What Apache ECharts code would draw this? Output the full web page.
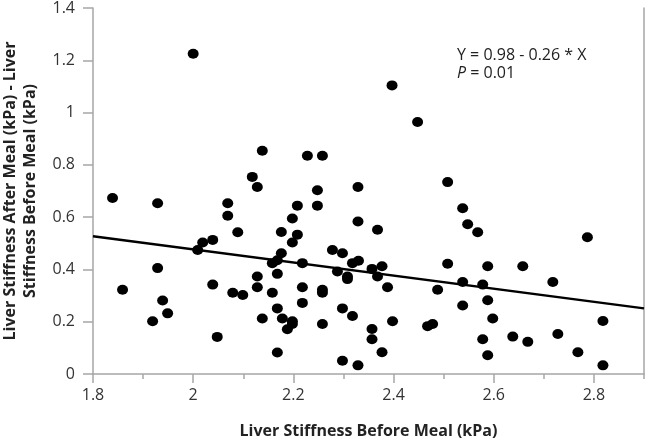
<!DOCTYPE html>
<html><head><meta charset="utf-8">
<script src="https://cdn.jsdelivr.net/npm/echarts@6/dist/echarts.min.js"></script>
<style>html,body{margin:0;padding:0;background:#fff}#c{width:646px;height:438px}</style>
</head><body><div id="c"></div>
<script>
// Liver stiffness before meal (kPa)
const xBefore = [
  2.00, 2.138, 2.228, 2.258, 2.118, 2.128, 2.248, 2.329, 1.839, 1.929,
  2.069, 2.208, 2.248, 2.069, 2.198, 2.329, 2.397, 2.448, 2.508, 2.538,
  2.548, 2.568, 2.787, 2.368, 2.330, 2.357, 2.377, 2.368, 2.388, 2.508,
  2.588, 2.658, 2.718, 2.538, 2.578, 2.488, 2.538, 2.588, 2.598, 2.818,
  2.398, 2.468, 2.478, 2.357, 2.357, 2.377, 2.578, 2.638, 2.668, 2.728,
  2.588, 2.768, 2.818, 2.329, 2.089, 2.176, 2.019, 2.039, 2.009, 2.158,
  2.168, 2.176, 1.929, 1.859, 1.939, 1.949, 1.919, 2.039, 2.048, 2.079,
  2.099, 2.128, 2.128, 2.168, 2.158, 2.168, 2.138, 2.178, 2.168, 2.208,
  2.198, 2.278, 2.298, 2.218, 2.318, 2.288, 2.308, 2.308, 2.218, 2.258,
  2.258, 2.218, 2.198, 2.198, 2.188, 2.258, 2.298, 2.318, 2.298
];
// Liver stiffness after meal - before meal (kPa)
const yDiff = [
  1.225, 0.854, 0.835, 0.835, 0.754, 0.715, 0.703, 0.715, 0.673, 0.653,
  0.653, 0.644, 0.644, 0.605, 0.595, 0.583, 1.104, 0.964, 0.734, 0.634,
  0.573, 0.542, 0.523, 0.552, 0.433, 0.402, 0.412, 0.373, 0.332, 0.422,
  0.412, 0.412, 0.352, 0.352, 0.342, 0.322, 0.262, 0.282, 0.212, 0.203,
  0.202, 0.183, 0.191, 0.172, 0.133, 0.083, 0.133, 0.143, 0.123, 0.153,
  0.072, 0.083, 0.033, 0.033, 0.542, 0.543, 0.503, 0.513, 0.474, 0.424,
  0.435, 0.462, 0.405, 0.322, 0.281, 0.232, 0.202, 0.342, 0.142, 0.311,
  0.302, 0.373, 0.332, 0.383, 0.311, 0.251, 0.212, 0.212, 0.082, 0.533,
  0.503, 0.474, 0.462, 0.424, 0.424, 0.392, 0.373, 0.363, 0.332, 0.322,
  0.311, 0.272, 0.202, 0.191, 0.171, 0.191, 0.251, 0.222, 0.051
];
// Fitted regression line end points
const fitX = [1.8, 2.9];
const fitY = [0.527, 0.251];
const eqText = 'Y = 0.98 - 0.26 * X';
const pText = '0.01';

const points = xBefore.map((x, i) => [x, yDiff[i]]);
const fit = fitX.map((x, i) => [x, fitY[i]]);

const axisGray = '#a6a6a6';
const labelColor = '#333';
const FONT = 'Open Sans';

const chart = echarts.init(document.getElementById('c'), null, {renderer: 'canvas'});
chart.setOption({
  animation: false,
  backgroundColor: '#fff',
  textStyle: {fontFamily: FONT},
  grid: {left: 93, right: 2, top: 8, bottom: 64, containLabel: false, outerBoundsMode: 'none'},
  xAxis: [{
    type: 'value', min: 1.8, max: 2.9, interval: 0.2,
    position: 'bottom',
    name: 'Liver Stiffness Before Meal (kPa)',
    nameLocation: 'middle', nameGap: 49,
    nameTextStyle: {fontFamily: FONT, fontWeight: 'bold', fontSize: 16, color: '#222'},
    axisLine: {show: true, lineStyle: {color: axisGray, width: 1.5}},
    axisTick: {show: true, length: 9, lineStyle: {color: axisGray, width: 1.5}},
    axisLabel: {fontFamily: FONT, fontSize: 16, color: labelColor, margin: 13, showMaxLabel: false},
    splitLine: {show: false}
  }, {
    type: 'value', min: 1.8, max: 2.9, interval: 0.1,
    position: 'bottom',
    axisLine: {show: false},
    axisTick: {show: true, length: 5, lineStyle: {color: axisGray, width: 1.5}},
    axisLabel: {show: false},
    splitLine: {show: false}
  }],
  yAxis: [{
    type: 'value', min: 0, max: 1.4, interval: 0.2,
    position: 'left',
    name: 'Liver Stiffness After Meal (kPa) - Liver\nStiffness Before Meal (kPa)',
    nameLocation: 'middle', nameGap: 53,
    nameTextStyle: {fontFamily: FONT, fontWeight: 'bold', fontSize: 16, lineHeight: 20, color: '#222', align: 'center'},
    axisLine: {show: true, lineStyle: {color: axisGray, width: 1.5}},
    axisTick: {show: true, length: 10, lineStyle: {color: axisGray, width: 1.5}},
    axisLabel: {fontFamily: FONT, fontSize: 16, color: labelColor, margin: 18},
    splitLine: {show: false}
  }, {
    type: 'value', min: 0, max: 1.4, interval: 0.2,
    position: 'right',
    axisLine: {show: true, lineStyle: {color: axisGray, width: 1.5}},
    axisTick: {show: false},
    axisLabel: {show: false},
    splitLine: {show: false}
  }],
  series: [{
    type: 'scatter',
    xAxisIndex: 0, yAxisIndex: 0,
    data: points,
    symbol: 'circle',
    symbolSize: [11, 10],
    itemStyle: {color: '#000', opacity: 1},
    z: 3
  }, {
    type: 'line',
    xAxisIndex: 0, yAxisIndex: 0,
    data: fit,
    symbol: 'none',
    lineStyle: {color: '#000', width: 2.5},
    z: 2
  }],
  graphic: [{
    type: 'text', left: 457, top: 47,
    style: {text: eqText, fontFamily: FONT, fontSize: 16, fill: '#222'}
  }, {
    type: 'text', left: 457, top: 65,
    style: {
      text: '{i|P} = ' + pText,
      fontFamily: FONT, fontSize: 16, fill: '#222',
      rich: {i: {fontStyle: 'italic', fontFamily: FONT, fontSize: 16, fill: '#222'}}
    }
  }]
});
</script>
</body></html>
